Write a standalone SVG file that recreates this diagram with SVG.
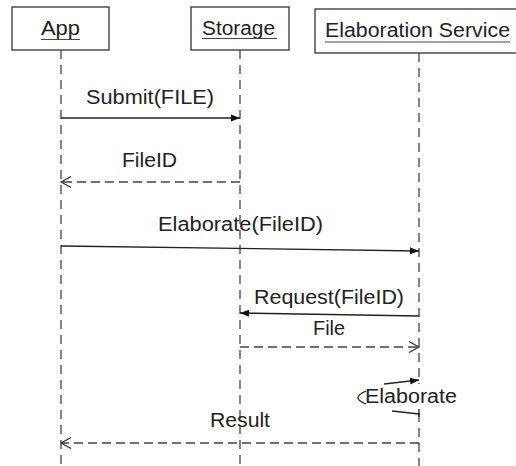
<svg xmlns="http://www.w3.org/2000/svg" width="516" height="466" viewBox="0 0 516 466">
<style>
.box{fill:#fff;stroke:#333;stroke-width:1.3}
.t{font-family:"Liberation Sans",Arial,sans-serif;font-size:20px;fill:#222}
.ul{stroke:#444;stroke-width:1.2}
.life{stroke:#444;stroke-width:1.3;stroke-dasharray:9 6;fill:none}
.msg{stroke:#222;stroke-width:1.3;fill:none}
.ret{stroke:#444;stroke-width:1.3;fill:none;stroke-dasharray:9 5}
</style>
<defs>
<marker id="fill" markerWidth="10" markerHeight="8" refX="9" refY="4" orient="auto" markerUnits="userSpaceOnUse">
<path d="M0,0.5 L9,4 L0,7.5 Z" fill="#111"/>
</marker>
<marker id="open" markerWidth="12" markerHeight="12" refX="10" refY="6" orient="auto" markerUnits="userSpaceOnUse">
<path d="M0,0.5 L10,6 L0,11.5" fill="none" stroke="#333" stroke-width="1.2"/>
</marker>
</defs>
<rect width="516" height="466" fill="#fff"/>
<g id="app">
<rect class="box" x="12" y="7" width="97" height="43"/>
<text class="t" x="41" y="35" textLength="39" lengthAdjust="spacingAndGlyphs">App</text>
<line class="ul" x1="41" y1="39.5" x2="80" y2="39.5"/>
</g>
<g id="storage">
<rect class="box" x="191" y="7" width="98" height="43"/>
<text class="t" x="202" y="35" textLength="73" lengthAdjust="spacingAndGlyphs">Storage</text>
<line class="ul" x1="202" y1="38.5" x2="277" y2="38.5"/>
</g>
<g id="elaboration-service">
<rect class="box" x="315" y="9" width="210" height="44"/>
<text class="t" x="325" y="37" textLength="185" lengthAdjust="spacingAndGlyphs">Elaboration Service</text>
<line class="ul" x1="325" y1="42" x2="510" y2="42"/>
</g>
<g id="connectors">
<line class="life" x1="61" y1="50" x2="61" y2="466"/>
<line class="life" x1="240" y1="50" x2="240" y2="466"/>
<line class="life" x1="419" y1="53" x2="419" y2="466"/>
<line class="msg" x1="61" y1="118" x2="240" y2="118" marker-end="url(#fill)"/>
<line class="ret" x1="240" y1="182" x2="61" y2="182" marker-end="url(#open)"/>
<line class="msg" x1="61" y1="246" x2="419" y2="251" marker-end="url(#fill)"/>
<line class="msg" x1="419" y1="316" x2="240" y2="313" marker-end="url(#fill)"/>
<line class="ret" x1="240" y1="347" x2="419" y2="347" marker-end="url(#open)"/>
<rect x="362" y="384" width="98" height="25" fill="#fff"/>
<line class="msg" x1="384" y1="384" x2="419" y2="380" marker-end="url(#fill)"/>
<path class="msg" d="M366,391 Q350,398 366,404" stroke-width="1"/>
<line class="msg" x1="392" y1="411" x2="419" y2="414"/>
<line class="msg" x1="419" y1="409" x2="419" y2="417"/>
<line class="ret" x1="419" y1="443" x2="61" y2="443" marker-end="url(#open)"/>
</g>
<g id="labels">
<text class="t" x="86" y="104" textLength="128" lengthAdjust="spacingAndGlyphs">Submit(FILE)</text>
<text class="t" x="122" y="167" textLength="55" lengthAdjust="spacingAndGlyphs">FileID</text>
<text class="t" x="158" y="231" textLength="165" lengthAdjust="spacingAndGlyphs">Elaborate(FileID)</text>
<text class="t" x="254" y="304" textLength="150" lengthAdjust="spacingAndGlyphs">Request(FileID)</text>
<text class="t" x="313" y="335" textLength="32" lengthAdjust="spacingAndGlyphs">File</text>
<text class="t" x="365" y="403" textLength="92" lengthAdjust="spacingAndGlyphs">Elaborate</text>
<text class="t" x="210" y="427" textLength="60" lengthAdjust="spacingAndGlyphs">Result</text>
</g>
</svg>
